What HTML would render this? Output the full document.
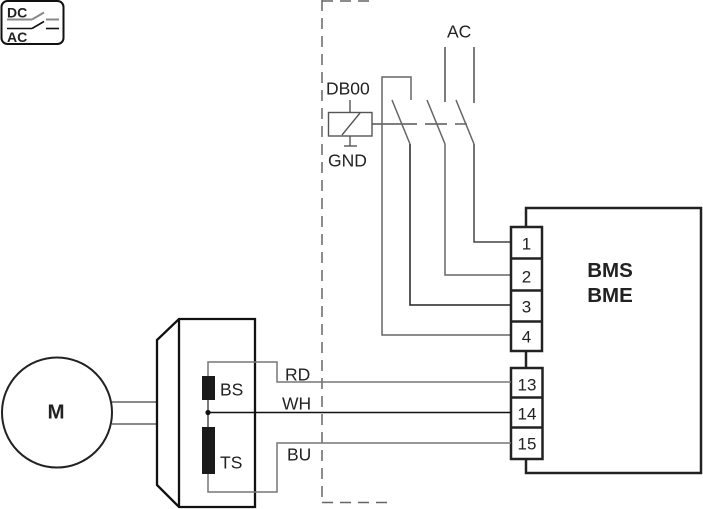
<!DOCTYPE html>
<html><head><meta charset="utf-8"><style>
html,body{margin:0;padding:0;background:#fff;}
svg{display:block;}
text{font-family:"Liberation Sans",Arial,sans-serif;}
</style></head><body>
<svg width="703" height="509" viewBox="0 0 703 509" xmlns="http://www.w3.org/2000/svg">
<!-- DC/AC icon -->
<rect x="1.5" y="1" width="62" height="43" rx="6" ry="6" fill="none" stroke="#111" stroke-width="2"/>
<text x="7" y="17.5" font-size="14" font-weight="bold" fill="#222">DC</text>
<text x="7" y="42" font-size="14" font-weight="bold" fill="#222">AC</text>
<g stroke="#888" stroke-width="2" fill="none">
<line x1="7" y1="19.5" x2="32" y2="19.5"/><line x1="32" y1="19.5" x2="44" y2="12.5"/><line x1="46" y1="19.5" x2="59" y2="19.5"/>
</g>
<g stroke="#111" stroke-width="1.6" fill="none">
<line x1="7" y1="28.5" x2="32" y2="28.5"/><line x1="32" y1="28.5" x2="44" y2="21.5"/><line x1="46" y1="28.5" x2="59" y2="28.5"/>
</g>

<!-- dashed frame -->
<g stroke="#666" stroke-width="1.5" fill="none" stroke-dasharray="11 7">
<line x1="322" y1="0" x2="322" y2="502.5"/>
<line x1="322" y1="502.5" x2="389" y2="502.5"/>
<line x1="322" y1="1" x2="372" y2="1"/>
</g>

<!-- AC -->
<text x="447" y="37.5" font-size="17.5" fill="#222">AC</text>
<g stroke="#444" stroke-width="1.4" fill="none">
<line x1="445" y1="47" x2="445" y2="102"/>
<line x1="474" y1="47" x2="474" y2="103"/>
</g>

<!-- relay -->
<text x="326" y="94.5" font-size="17.5" fill="#222">DB00</text>
<text x="328" y="166.5" font-size="17.5" fill="#222">GND</text>
<g stroke="#555" stroke-width="1.4" fill="none">
<rect x="328.5" y="112.5" width="43.5" height="23.5"/>
<line x1="342" y1="135" x2="360" y2="113"/>
<line x1="350" y1="100" x2="350" y2="112"/>
<line x1="350" y1="136" x2="350" y2="146"/>
<line x1="344" y1="146" x2="357" y2="146"/>
<line x1="372" y1="124" x2="417" y2="124"/>
<line x1="425" y1="124" x2="447" y2="124"/>
<line x1="455" y1="124" x2="467" y2="124"/>
</g>

<!-- switches and wires to terminals 1-4 -->
<g stroke="#666" stroke-width="1.5" fill="none">
<polyline points="510,335 382,335 382,77 411,77 411,100"/>
<line x1="392" y1="100" x2="410" y2="144"/>
<polyline points="510,305 410,305 410,144" stroke="#222"/>
<line x1="427" y1="100" x2="445" y2="144"/>
<polyline points="510,275 445,275 445,144"/>
<line x1="456" y1="100" x2="474" y2="144"/>
<polyline points="510,242 474,242 474,144" stroke="#444"/>
</g>

<!-- BMS box -->
<g stroke="#222" stroke-width="2.5" fill="none">
<polyline points="526,227 526,208 701,208 701,473 526,473 526,459"/>
<line x1="526" y1="351" x2="526" y2="368"/>
<rect x="511" y="227" width="31" height="124" fill="#fff"/>
<line x1="511" y1="258.5" x2="542" y2="258.5"/>
<line x1="511" y1="290.5" x2="542" y2="290.5"/>
<line x1="511" y1="321.5" x2="542" y2="321.5"/>
<rect x="511" y="368" width="31.5" height="91" fill="#fff"/>
<line x1="511" y1="397.5" x2="542" y2="397.5"/>
<line x1="511" y1="427.5" x2="542" y2="427.5"/>
</g>
<g font-size="17" fill="#222" text-anchor="middle">
<text x="526.5" y="249.5">1</text>
<text x="526.5" y="282.5">2</text>
<text x="526.5" y="312.5">3</text>
<text x="526.5" y="342.5">4</text>
<text x="527" y="390.5">13</text>
<text x="527" y="419.5">14</text>
<text x="527" y="449.5">15</text>
</g>
<text x="610" y="277" font-size="20.5" font-weight="bold" fill="#222" text-anchor="middle">BMS</text>
<text x="610" y="302" font-size="20.5" font-weight="bold" fill="#222" text-anchor="middle">BME</text>

<!-- motor -->
<circle cx="57" cy="412.5" r="55" fill="none" stroke="#222" stroke-width="2"/>
<text x="56" y="418.5" font-size="20.5" font-weight="bold" fill="#222" text-anchor="middle">M</text>
<g stroke="#444" stroke-width="1.3">
<line x1="112" y1="402" x2="157" y2="402"/>
<line x1="112" y1="424" x2="157" y2="424"/>
</g>

<!-- housing -->
<g stroke="#111" stroke-width="2.3" fill="none">
<polygon points="179,319 255,319 255,507 179,507 157,485 157,340"/>
<line x1="179" y1="319" x2="179" y2="507"/>
</g>

<!-- sensor wiring -->
<g stroke="#777" stroke-width="1.5" fill="none">
<polyline points="208,376 208,362 277,362 277,382 511,382"/>
<polyline points="208,474 208,492 277,492 277,443 511,443"/>
</g>
<line x1="208" y1="400" x2="208" y2="427" stroke="#333" stroke-width="1.3"/>
<line x1="208" y1="412.5" x2="511" y2="412.5" stroke="#111" stroke-width="1.4"/>
<circle cx="208" cy="412.5" r="2.6" fill="#111"/>
<rect x="202" y="376" width="13" height="24" fill="#1a1a1a"/>
<rect x="202" y="427" width="13" height="47" fill="#1a1a1a"/>
<g font-size="17.5" fill="#222">
<text x="220" y="395.5">BS</text>
<text x="220" y="468.5">TS</text>
<text x="285" y="380.5">RD</text>
<text x="282" y="409.5">WH</text>
<text x="287" y="460.5">BU</text>
</g>
</svg>
</body></html>
